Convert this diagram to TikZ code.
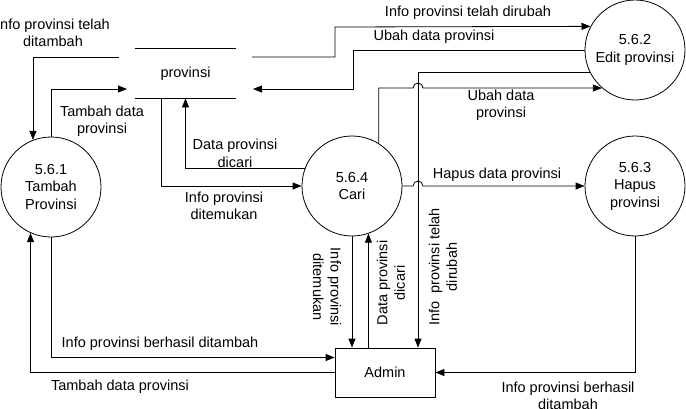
\documentclass[tikz,border=0pt]{standalone}
\usepackage{fontspec}
\setmainfont{Liberation Sans}
\usetikzlibrary{arrows.meta}
\begin{document}
\begin{tikzpicture}[x=1pt,y=-1pt, line width=0.8pt,
  font=\fontsize{14.5}{17.5}\selectfont,
  flow/.style={-{Triangle[length=9pt,width=7pt]}},
  proc/.style={draw, circle, minimum size=100pt, inner sep=0pt, align=center},
  ent/.style={draw, minimum width=100pt, minimum height=49pt, inner sep=0pt},
  storebox/.style={minimum width=101pt, minimum height=49pt, inner sep=0pt},
  lbl/.style={align=center, inner sep=0pt}]
\useasboundingbox (0,0) rectangle (686,408);

% processes, entity, store
\node[proc] (c1) at (51,187) {5.6.1\\Tambah\\Provinsi};
\node[proc] (e2) at (635,50) {5.6.2\\Edit provinsi};
\node[proc] (h3) at (635,186) {5.6.3\\Hapus\\provinsi};
\node[proc] (cari) at (352,186) {5.6.4\\Cari};
\node[ent] (admin) at (385,372.5) {Admin};
\node[storebox] (store) at (185.5,73.5) {provinsi};
\draw (store.north west) -- (store.north east)
      (store.south west) -- (store.south east);

% helper coordinates
\coordinate (sL1) at (119,57);
\coordinate (sR1) at (252,57);
\coordinate (sR2) at (253,89);
\coordinate (sL2) at (127,89);
\coordinate (k1) at (335,27);
\coordinate (k2) at (353,50);
\coordinate (vx) at (418,0);
\coordinate (hx) at (413,0);

% flows
\draw[flow] (sL1) -| (c1.111.1);
\draw[flow] (sR1) -| (k1) -- (e2.152.6);
\draw[flow] (e2.west) -- (k2) |- (sR2);
\draw[flow] (c1.north) |- (sL2);
\draw[flow] (cari.160.1) -| (store.south);
\draw[flow] ([xshift=-24.5pt]store.south) |- (cari.west);
\draw[flow] (cari.58.7) |- (hx |- e2.229.5) arc[start angle=180,end angle=0,radius=5pt] -- (e2.229.5);
\draw[flow] (e2.207.4) -| (admin.north -| vx);
\draw[flow] (cari.east) -- (cari.east -| hx) arc[start angle=180,end angle=0,radius=5pt] -- (h3.west);
\draw[flow] (cari.south) -- (cari.south |- admin.north);
\draw[flow] (cari.289.9 |- admin.north) -- (cari.289.9);
\draw[flow] (c1.south) |- ([yshift=15pt]admin.west);
\draw[flow] (admin.west) -| (c1.246.4);
\draw[flow] (h3.south) |- (admin.east);

% labels
\node[lbl] (l1) at (53,33) {Info provinsi telah\\ditambah};
\node[lbl] (l2) at (468,12.5) {Info provinsi telah dirubah};
\node[lbl] (l3) at (434,37) {Ubah data provinsi};
\node[lbl] (l4) at (102,121) {Tambah data\\provinsi};
\node[lbl] (l5) at (501,105) {Ubah data\\provinsi};
\node[lbl] (l6) at (235,153.5) {Data provinsi\\dicari};
\node[lbl] (l7) at (224,206) {Info provinsi\\ditemukan};
\node[lbl] (l8) at (497,175) {Hapus data provinsi};
\node[lbl, rotate=-90] (l9) at (327,287) {Info provinsi\\ditemukan};
\node[lbl, rotate=90] (l10) at (391,283) {Data provinsi\\dicari};
\node[lbl, rotate=90] (l11) at (443,267) {Info\ \ provinsi telah\\dirubah};
\node[lbl] (l12) at (160,344) {Info provinsi berhasil ditambah};
\node[lbl] (l13) at (120,387) {Tambah data provinsi};
\node[lbl] (l14) at (568,396) {Info provinsi berhasil\\ditambah};
\end{tikzpicture}
\end{document}
